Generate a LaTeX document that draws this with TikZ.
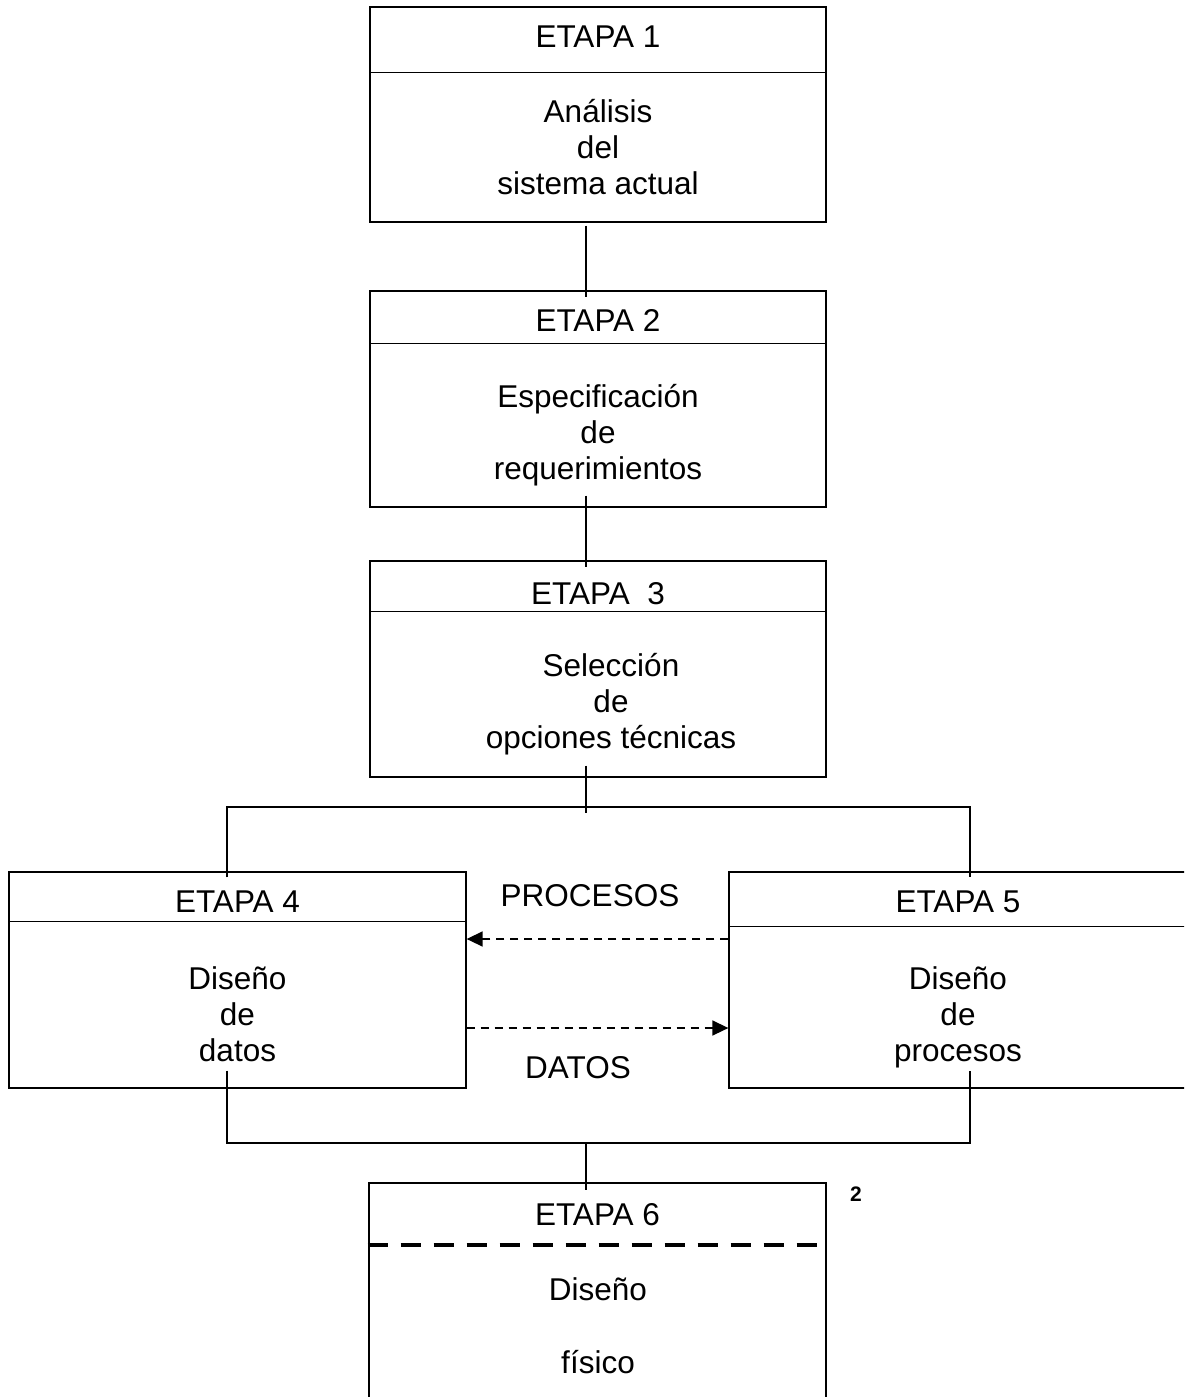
\documentclass[tikz,border=0pt]{standalone}
\usepackage{fontspec}
\setmainfont{Liberation Sans}
\usetikzlibrary{calc,arrows.meta}
\begin{document}
\begin{tikzpicture}[x=1pt,y=-1pt,
  box/.style={draw,line width=1.3pt,inner sep=0pt,minimum width=456pt,minimum height=216pt},
  lbl/.style={font=\fontsize{31.5}{36}\selectfont,inner sep=0pt,align=center},
  wire/.style={line width=1.8pt},
  rule/.style={line width=1.3pt},
  flow/.style={line width=1.6pt,dash pattern=on 8pt off 6pt,-{Triangle[length=16pt,width=15pt]}}]
\useasboundingbox (0,0) rectangle (1184,1397);
\clip (0,0) rectangle (1184,1397);
\fill[white] (0,0) rectangle (1184,1397);

% stage boxes
\node[box,minimum height=215pt] (e1) at (598,114.5) {};
\node[box] (e2) at (598,399) {};
\node[box] (e3) at (598,669) {};
\node[box,minimum width=457pt] (e4) at (237.5,980) {};
\node[box,minimum width=458pt] (e5) at (958,980) {};
\node[box,line width=2.8pt,minimum width=457pt,minimum height=240pt] (e6) at (597.5,1303) {};

% header separators
\draw[rule] ($(e1.north west)+(0,66)$) -- ($(e1.north east)+(0,66)$);
\draw[rule] ($(e2.north west)+(0,53)$) -- ($(e2.north east)+(0,53)$);
\draw[rule] ($(e3.north west)+(0,51)$) -- ($(e3.north east)+(0,51)$);
\draw[rule] ($(e4.north west)+(0,50)$) -- ($(e4.north east)+(0,50)$);
\draw[rule] ($(e5.north west)+(0,55)$) -- ($(e5.north east)+(0,55)$);
\draw[line width=4pt,dash pattern=on 20pt off 13pt] ($(e6.north west)+(0,63)$) -- ($(e6.north east)+(0,63)$);

% headers
\node[lbl] (t1) at (598,37) {ETAPA 1};
\node[lbl] (t2) at (598,320) {ETAPA 2};
\node[lbl] (t3) at (598,594) {ETAPA\ \ 3};
\node[lbl] (t4) at (237.5,902) {ETAPA 4};
\node[lbl] (t5) at (958,902) {ETAPA 5};
\node[lbl] (t6) at (597.5,1215) {ETAPA 6};

% contents
\node[lbl] (b1) at (598,147) {Análisis\\del\\sistema actual};
\node[lbl] (b2) at (598,435) {Especificación\\de\\requerimientos};
\node[lbl] (b3) at (611,704) {Selección\\de\\opciones técnicas};
\node[lbl] (b4) at (237.5,1014) {Diseño\\de\\datos};
\node[lbl] (b5) at (958,1017) {Diseño\\de\\procesos};
\node[lbl] (b6) at (598,1326) {Diseño\\[37pt]físico};

% exchange labels
\node[lbl] (lp) at (590,896) {PROCESOS};
\node[lbl] (ld) at (578,1068) {DATOS};
\node[font=\fontsize{21}{24}\selectfont\bfseries,inner sep=0pt] (fn) at (856,1194) {2};

% connectors
\coordinate (spine) at (586,0);
\coordinate (splitL) at (227,807);
\coordinate (splitR) at (970,807);
\coordinate (joinL) at (227,1143);
\coordinate (joinR) at (970,1143);

\draw[wire] ($(e1.south -| spine)+(0,3)$) -- ($(e2.north -| spine)+(0,7)$);
\draw[wire] ($(e2.south -| spine)+(0,-12)$) -- ($(e3.north -| spine)+(0,7)$);
\draw[wire] ($(e3.south -| spine)+(0,-12)$) -- ($(spine |- splitL)+(0,6)$);
\draw[wire] ($(e4.north -| splitL)+(0,6)$) -- (splitL) -- (splitR) -- ($(e5.north -| splitR)+(0,6)$);
\draw[wire] ($(e4.south -| joinL)+(0,-18)$) -- (joinL) -- (joinR) -- ($(e5.south -| joinR)+(0,-18)$);
\draw[wire] (spine |- joinL) -- ($(e6.north -| spine)+(0,8)$);

% data exchange between stages 4 and 5
\draw[flow] ($(e5.west)+(0,-41)$) -- ($(e4.east)+(0,-41)$);
\draw[flow] ($(e4.east)+(0,48)$) -- ($(e5.west)+(0,48)$);
\end{tikzpicture}
\end{document}
